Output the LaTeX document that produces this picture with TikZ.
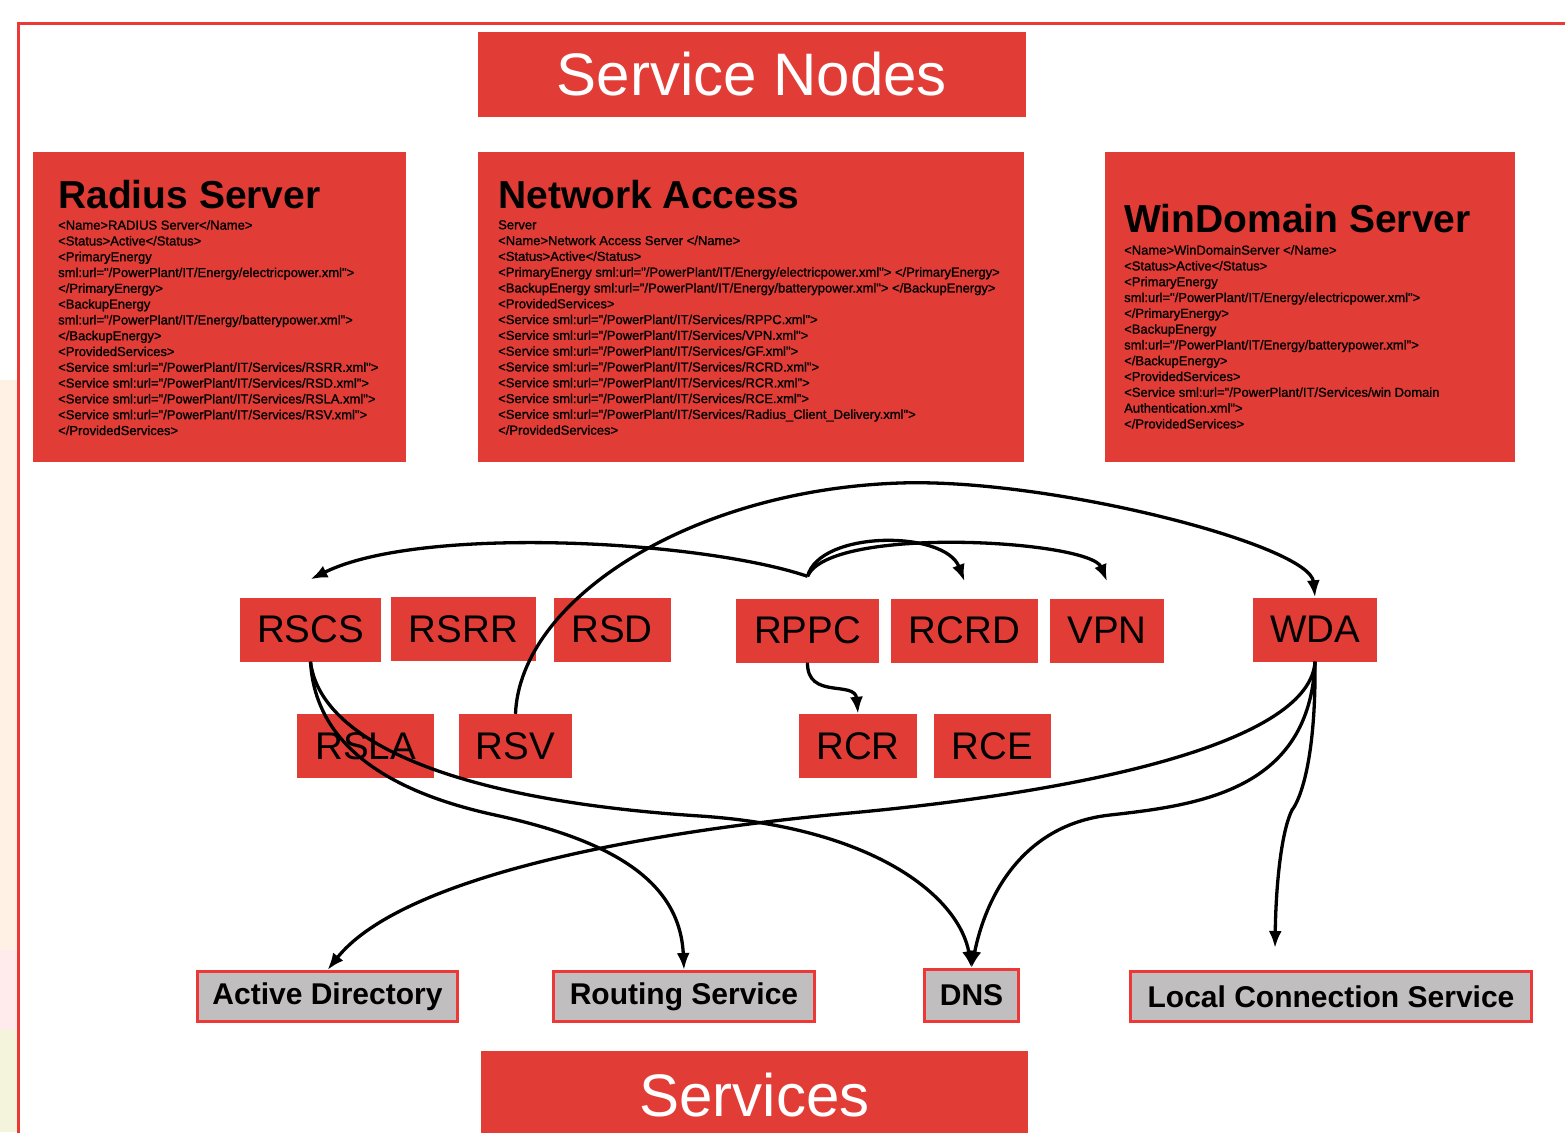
\documentclass[tikz,border=0pt]{standalone}
\usepackage{fontspec}
\setmainfont{Liberation Sans}
\newfontfamily\xmlfont[FakeBold=1.2]{Liberation Sans}
\usetikzlibrary{arrows.meta,positioning,calc}
\definecolor{boxred}{RGB}{226,60,55}
\definecolor{framered}{RGB}{236,56,54}
\definecolor{svcgrey}{RGB}{192,190,191}
\tikzset{
	title/.style = {fill=boxred, text=white, inner sep=0pt, font=\fontsize{60}{72}\selectfont},
	srvbox/.style = {fill=boxred, inner sep=0pt},
	srvhead/.style = {anchor=base west, inner sep=0pt, font=\fontsize{39}{46}\selectfont\bfseries},
	srvtext/.style = {anchor=north west, inner sep=0pt, align=left, font=\xmlfont\fontsize{13}{15.8}\selectfont},
	svc/.style = {fill=boxred, inner sep=0pt, minimum height=64pt, font=\fontsize{38.5}{46}\selectfont},
	ext/.style = {draw=framered, line width=3pt, fill=svcgrey, inner sep=0pt, minimum height=50pt, font=\fontsize{30}{36}\selectfont\bfseries},
	flow/.style = {->, line width=3.3pt}
}

\begin{document}
\begin{tikzpicture}[x=1pt,y=-1pt,>={Latex[length=17pt,width=13pt]}]
	\useasboundingbox (0,0) rectangle (1565,1132);
	% slide background left of the frame
	\fill[orange!10] (0,380) rectangle (17,950);
	\fill[red!8] (0,950) rectangle (17,1030);
	\fill[olive!10] (0,1030) rectangle (17,1132);
	\draw[framered, line width=3pt] (18.5,1140) -- (18.5,24) -- (1570,24);

	\node[title, minimum width=548pt, minimum height=85pt] (nodes) at (752,74.5) {Service Nodes};
	\node[title, minimum width=547pt, minimum height=88pt] (services) at (754.5,1095) {Services};

	% server descriptions
	\node[srvbox, minimum width=373pt, minimum height=310pt] (radius) at (219.5,307) {};
	\node[srvhead] (radiushead) at (58,208) {Radius Server};
	\node[srvtext] (radiustext) at (58,220) {<Name>RADIUS Server</Name>\\
		<Status>Active</Status>\\
		<PrimaryEnergy\\
		sml:url="/PowerPlant/IT/Energy/electricpower.xml">\\
		</PrimaryEnergy>\\
		<BackupEnergy\\
		sml:url="/PowerPlant/IT/Energy/batterypower.xml">\\
		</BackupEnergy>\\
		<ProvidedServices>\\
		<Service sml:url="/PowerPlant/IT/Services/RSRR.xml">\\
		<Service sml:url="/PowerPlant/IT/Services/RSD.xml">\\
		<Service sml:url="/PowerPlant/IT/Services/RSLA.xml">\\
		<Service sml:url="/PowerPlant/IT/Services/RSV.xml">\\
		</ProvidedServices>};

	\node[srvbox, minimum width=546pt, minimum height=310pt] (access) at (751,307) {};
	\node[srvhead] (accesshead) at (498,208) {Network Access};
	\node[srvtext] (accesstext) at (498,220) {Server\\
		<Name>Network Access Server </Name>\\
		<Status>Active</Status>\\
		<PrimaryEnergy sml:url="/PowerPlant/IT/Energy/electricpower.xml"> </PrimaryEnergy>\\
		<BackupEnergy sml:url="/PowerPlant/IT/Energy/batterypower.xml"> </BackupEnergy>\\
		<ProvidedServices>\\
		<Service sml:url="/PowerPlant/IT/Services/RPPC.xml">\\
		<Service sml:url="/PowerPlant/IT/Services/VPN.xml">\\
		<Service sml:url="/PowerPlant/IT/Services/GF.xml">\\
		<Service sml:url="/PowerPlant/IT/Services/RCRD.xml">\\
		<Service sml:url="/PowerPlant/IT/Services/RCR.xml">\\
		<Service sml:url="/PowerPlant/IT/Services/RCE.xml">\\
		<Service sml:url="/PowerPlant/IT/Services/Radius\_Client\_Delivery.xml">\\
		</ProvidedServices>};

	\node[srvbox, minimum width=410pt, minimum height=310pt] (windomain) at (1310,307) {};
	\node[srvhead] (windomainhead) at (1124,232) {WinDomain Server};
	\node[srvtext] (windomaintext) at (1124,245) {<Name>WinDomainServer </Name>\\
		<Status>Active</Status>\\
		<PrimaryEnergy\\
		sml:url="/PowerPlant/IT/Energy/electricpower.xml">\\
		</PrimaryEnergy>\\
		<BackupEnergy\\
		sml:url="/PowerPlant/IT/Energy/batterypower.xml">\\
		</BackupEnergy>\\
		<ProvidedServices>\\
		<Service sml:url="/PowerPlant/IT/Services/win Domain\\
		Authentication.xml">\\
		</ProvidedServices>};

	% provided services
	\node[svc, minimum width=141pt] (RSCS) at (310.5,629.5) {RSCS};
	\node[svc, minimum width=145pt] (RSRR) at (463.5,629) {RSRR};
	\node[svc, minimum width=117pt] (RSD) at (612,629.5) {RSD};
	\node[svc, minimum width=143pt] (RPPC) at (807.5,630.5) {RPPC};
	\node[svc, minimum width=147pt] (RCRD) at (964.5,630.5) {RCRD};
	\node[svc, minimum width=114pt] (VPN) at (1107,630.5) {VPN};
	\node[svc, minimum width=124pt] (WDA) at (1315,629.5) {WDA};
	\node[svc, minimum width=137pt] (RSLA) at (365.5,746) {RSLA};
	\node[svc, minimum width=113pt] (RSV) at (515.5,746) {RSV};
	\node[svc, minimum width=118pt] (RCR) at (858,746) {RCR};
	\node[svc, minimum width=117pt] (RCE) at (992.5,746) {RCE};

	% external services
	\node[ext, minimum width=260pt] (AD) at (327.5,996.5) {Active Directory};
	\node[ext, minimum width=261pt] (routing) at (684,996.5) {Routing Service};
	\node[ext, minimum width=94pt, minimum height=52pt] (DNS) at (971.5,995.5) {DNS};
	\node[ext, minimum width=401pt] (LCS) at (1331,996.5) {Local Connection Service};
	\coordinate (lcsin) at (1275,948);

	\draw[flow] ([yshift=22pt]RPPC.north) .. controls (700,540) and (420,525) .. ([yshift=18pt]RSCS.north);
	\draw[flow] ([yshift=22pt]RPPC.north) .. controls (820,530) and (945,530) .. ([yshift=17pt]RCRD.north);
	\draw[flow] ([yshift=22pt]RPPC.north) .. controls (830,525) and (1090,540) .. ([yshift=17pt]VPN.north);
	\draw[flow] (RPPC.south) .. controls (807,700) and (855,680) .. (RCR.north);
	\draw[flow] (RSV.north) .. controls (520,600) and (690,490) .. (900,483)
		.. controls (1050,478) and (1310,545) .. (WDA.north);
	\draw[flow] (RSCS.south) .. controls (315,740) and (380,790) .. (495,815)
		.. controls (610,840) and (680,880) .. (routing.north);
	\draw[flow] (RSCS.south) .. controls (320,740) and (450,800) .. (700,816)
		.. controls (880,828) and (960,900) .. (DNS.north);
	\draw[flow] (WDA.south) .. controls (1310,740) and (1100,790) .. (850,813)
		.. controls (600,836) and (395,885) .. (AD.north);
	\draw[flow] (WDA.south) .. controls (1310,790) and (1200,805) .. (1110,815)
		.. controls (1020,825) and (985,900) .. (DNS.north);
	\draw[flow] (WDA.south) .. controls (1316,760) and (1300,800) .. (1292,810)
		.. controls (1282,830) and (1276,880) .. (lcsin);
\end{tikzpicture}
\end{document}
